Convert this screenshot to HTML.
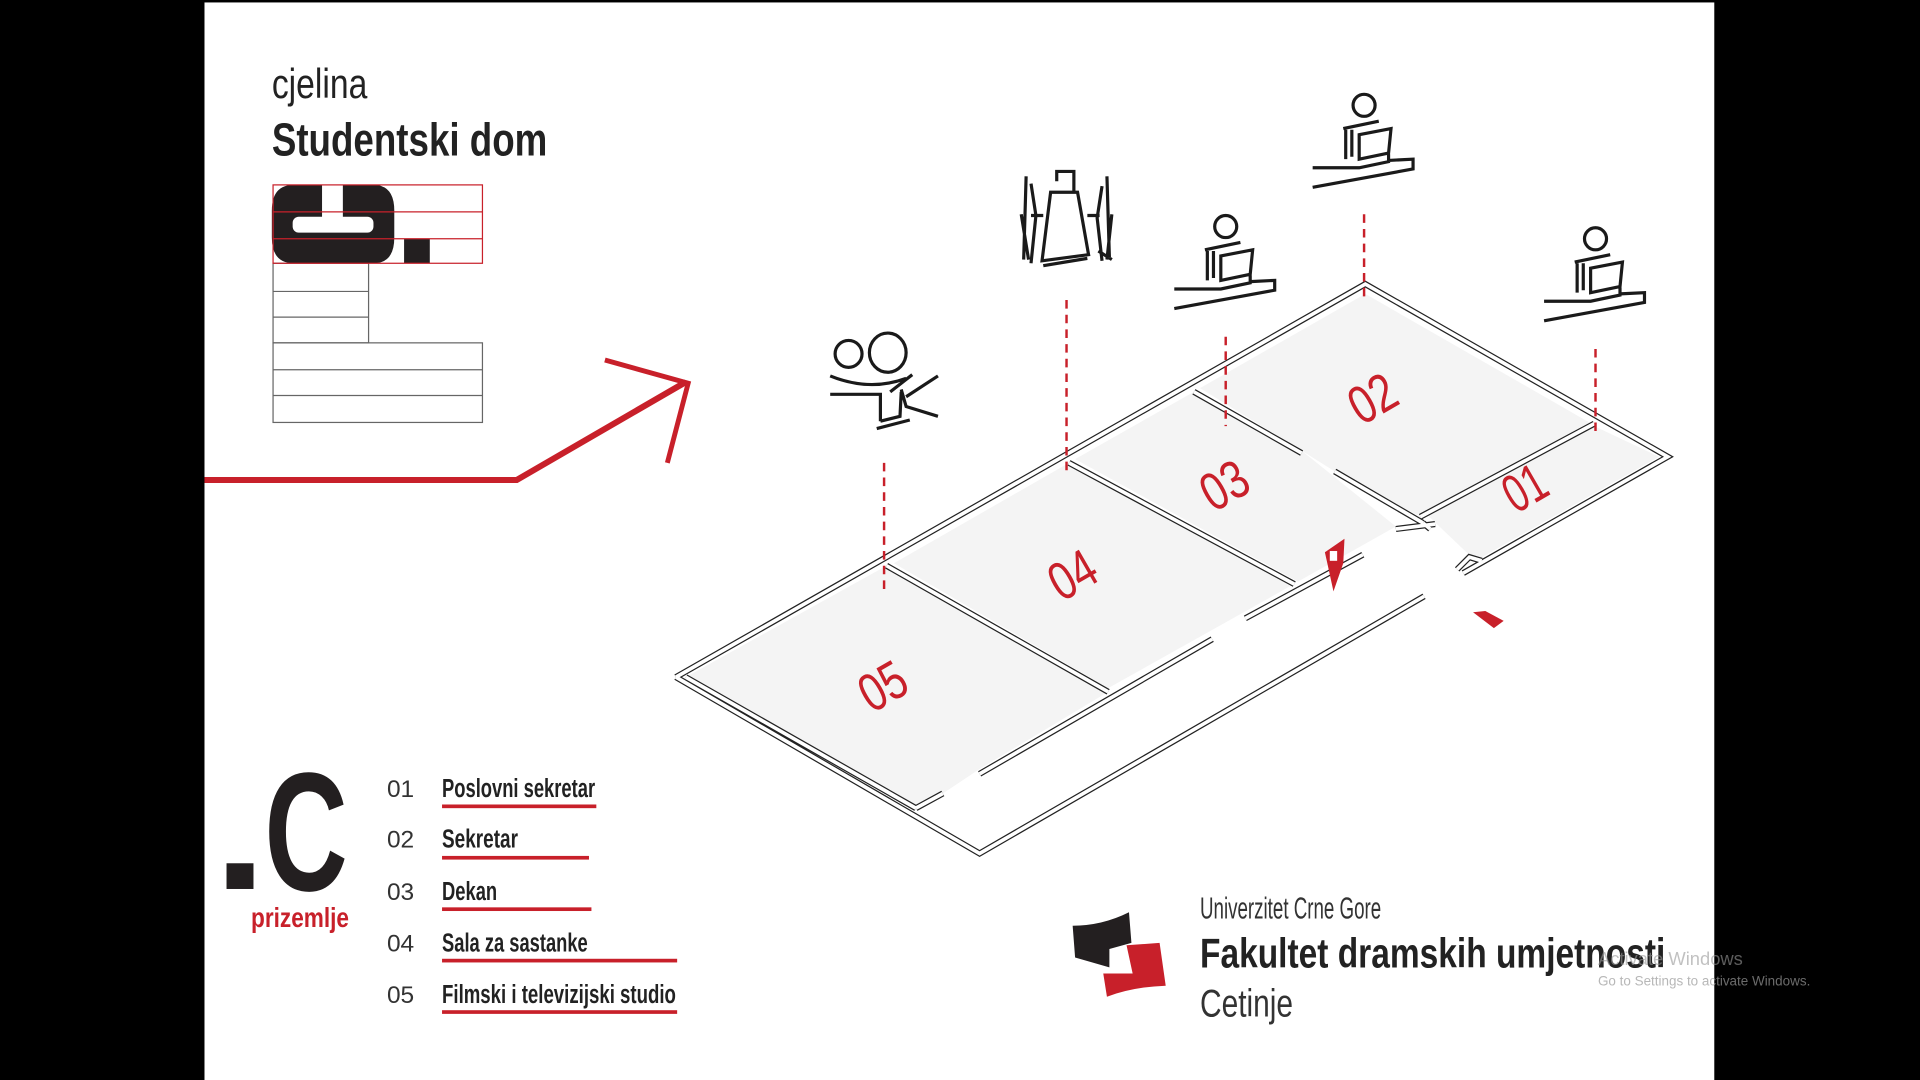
<!DOCTYPE html>
<html><head><meta charset="utf-8"><style>
html,body{margin:0;padding:0;background:#000;width:1920px;height:1080px;overflow:hidden}
svg{display:block}
.w{fill:none;stroke:#222;stroke-width:5;stroke-linecap:butt;stroke-linejoin:miter}
.wi{fill:none;stroke:#fff;stroke-width:3;stroke-linecap:butt;stroke-linejoin:miter}
.ic{fill:none;stroke:#1a1a1a;stroke-width:2.6;stroke-linecap:butt;stroke-linejoin:miter}
.dash{stroke:#c8202a;stroke-width:2;stroke-dasharray:7 5}
.n{font-family:"Liberation Sans Narrow","Liberation Sans",sans-serif}
</style></head><body>
<svg width="1920" height="1080" viewBox="0 0 1568 882" xmlns="http://www.w3.org/2000/svg">
<rect x="0" y="0" width="1568" height="882" fill="#000"/>
<rect x="167" y="2" width="1233" height="880" fill="#fff"/>

<text x="222" y="80" class="n" font-size="34" fill="#222" textLength="78" lengthAdjust="spacingAndGlyphs">cjelina</text>
<text x="222" y="127" class="n" font-size="38" font-weight="bold" fill="#222" textLength="225" lengthAdjust="spacingAndGlyphs">Studentski dom</text>

<g fill="none" stroke="#666" stroke-width="1">
<rect x="223" y="215" width="78" height="65"/>
<line x1="223" y1="238" x2="301" y2="238"/><line x1="223" y1="259" x2="301" y2="259"/>
<rect x="223" y="280" width="171" height="65"/>
<line x1="223" y1="302" x2="394" y2="302"/><line x1="223" y1="323" x2="394" y2="323"/>
</g>
<path d="M240,151 H305 Q322,151 322,172 V194 Q322,215 305,215 H240 Q222,215 222,194 V172 Q222,151 240,151 Z" fill="#231f20"/>
<rect x="263" y="151" width="17" height="27" fill="#fff"/>
<rect x="239" y="177" width="66" height="13" rx="5" fill="#fff"/>
<rect x="330" y="195" width="21" height="20" fill="#231f20"/>
<g fill="none" stroke="#c8202a" stroke-width="1">
<rect x="223" y="151" width="171" height="64"/>
<line x1="223" y1="173" x2="394" y2="173"/><line x1="223" y1="195" x2="394" y2="195"/>
</g>

<polyline points="167,392 422,392 560,312" fill="none" stroke="#c8202a" stroke-width="5"/>
<polyline points="494,294 562,313 545,378" fill="none" stroke="#c8202a" stroke-width="4"/>

<g fill="#f4f4f4">
<polygon points="560,553 724,462 905,565 800,628 770,648 748,660"/>
<polygon points="730,460 873,378 1055,478 905,562"/>
<polygon points="878,375 975,320 1063,368 1140,430 1060,475"/>
<polygon points="980,317 1115,240 1298,345 1160,422 1090,385 1063,368"/>
<polygon points="1165,420 1302,348 1355,373 1205,458"/>
</g>

<g>
<path class="w" d="M552,553 L1115,232 L1362,373 L1195,468
M552,553 L800,697 L1163,487
M560,553 L748,660 M748,660 L770,648
M800,632 L990,522
M1017,505 L1113,453
M724,462 L905,565
M873,378 L1057,477
M975,320 L1063,370
M1090,385 L1162,427
M1160,422 L1302,346
M1140,432 L1172,428
M1190,465 L1200,455 L1210,458
M1162,427 L1168,432"/>
<path class="wi" d="M552,553 L1115,232 L1362,373 L1195,468
M552,553 L800,697 L1163,487
M560,553 L748,660 M748,660 L770,648
M800,632 L990,522
M1017,505 L1113,453
M724,462 L905,565
M873,378 L1057,477
M975,320 L1063,370
M1090,385 L1162,427
M1160,422 L1302,346
M1140,432 L1172,428
M1190,465 L1200,455 L1210,458
M1162,427 L1168,432"/>
</g>

<path d="M1082,451 L1098,440 L1097,460 L1089,483 Z" fill="#c8202a"/>
<rect x="1086" y="450" width="6" height="8" fill="#fff"/>
<path d="M1203,500 L1213,499 L1228,507 L1220,513 Z" fill="#c8202a"/>

<g class="n" font-size="44" fill="#c8202a">
<text transform="translate(712,583) rotate(-30)" textLength="38" lengthAdjust="spacingAndGlyphs">05</text>
<text transform="translate(867,492) rotate(-30)" textLength="38" lengthAdjust="spacingAndGlyphs">04</text>
<text transform="translate(991,419) rotate(-30)" textLength="38" lengthAdjust="spacingAndGlyphs">03</text>
<text transform="translate(1112,348) rotate(-30)" textLength="38" lengthAdjust="spacingAndGlyphs">02</text>
<text transform="translate(1238,420) rotate(-30)" textLength="34" lengthAdjust="spacingAndGlyphs">01</text>
</g>

<line class="dash" x1="722" y1="378" x2="722" y2="485"/>
<line class="dash" x1="871" y1="245" x2="871" y2="388"/>
<line class="dash" x1="1001" y1="275" x2="1001" y2="348"/>
<line class="dash" x1="1114" y1="175" x2="1114" y2="245"/>
<line class="dash" x1="1303" y1="285" x2="1303" y2="357"/>

<defs>
<g id="person">
<circle cx="0" cy="0" r="9" class="ic"/>
<path class="ic" d="M-17,19 L12,13 M-15,20 L-15,44 M-10,20 L-10,42 M-4,24 L22,19 L20,39 L-4,44 Z M-42,51 L-4,51 L20,46 L20,40 M20,45 L40,44 L40,52 L-42,67"/>
</g>
</defs>
<use href="#person" x="1114" y="86"/>
<use href="#person" x="1001" y="185"/>
<use href="#person" x="1303" y="195"/>

<g class="ic">
<path d="M863,148 L863,140 L877,140 L877,157 M858,157 L880,157 L889,208 L851,213 Z"/>
<path d="M838,144 L836,212 M842,150 L846,176 L842,215 M834,175 L840,212 M904,144 L906,210 M900,152 L896,178 L900,213 M908,175 L904,212 M852,217 L888,211 M897,205 L908,212 M842,176 L852,176 M898,176 L888,176"/>
</g>

<g class="ic">
<circle cx="693" cy="289" r="11"/>
<ellipse cx="725" cy="288" rx="15" ry="16"/>
<path d="M678,307 Q710,320 740,309 M678,322 L719,322 L719,344 M727,320 L745,306 M736,318 L740,332 L766,340 M740,324 L766,307 M736,320 L735,340 L719,344 M716,350 L743,343"/>
</g>

<rect x="185" y="705" width="22" height="21" fill="#231f20"/>
<text x="216" y="727" style="font-family:'Liberation Sans Narrow','Liberation Sans',sans-serif;font-weight:bold" font-size="138" fill="#231f20" textLength="68" lengthAdjust="spacingAndGlyphs">C</text>
<text x="205" y="757" class="n" font-size="23" font-weight="bold" fill="#c8202a" textLength="80" lengthAdjust="spacingAndGlyphs">prizemlje</text>

<g class="n" font-size="20" fill="#333">
<text x="316" y="651">01</text><text x="316" y="692">02</text><text x="316" y="735">03</text><text x="316" y="777">04</text><text x="316" y="819">05</text>
</g>
<g class="n" font-size="21" font-weight="bold" fill="#222">
<text x="361" y="651" textLength="125" lengthAdjust="spacingAndGlyphs">Poslovni sekretar</text>
<text x="361" y="692" textLength="62" lengthAdjust="spacingAndGlyphs">Sekretar</text>
<text x="361" y="735" textLength="45" lengthAdjust="spacingAndGlyphs">Dekan</text>
<text x="361" y="777" textLength="119" lengthAdjust="spacingAndGlyphs">Sala za sastanke</text>
<text x="361" y="819" textLength="191" lengthAdjust="spacingAndGlyphs">Filmski i televizijski studio</text>
</g>
<g fill="#c8202a">
<rect x="361" y="657" width="126" height="3"/>
<rect x="361" y="699" width="120" height="3"/>
<rect x="361" y="741" width="122" height="3"/>
<rect x="361" y="783" width="192" height="3"/>
<rect x="361" y="825" width="192" height="3"/>
</g>

<path d="M876,756 Q900,756 922,745 L924,770 L906,775 L906,790 L878,782 Z" fill="#231f20"/>
<path d="M920,772 L947,770 L952,805 Q925,806 904,814 L901,795 L925,795 Z" fill="#c8202a"/>

<text x="980" y="750" class="n" font-size="25" fill="#333" textLength="148" lengthAdjust="spacingAndGlyphs">Univerzitet Crne Gore</text>
<text x="980" y="790" class="n" font-size="34" font-weight="bold" fill="#222" textLength="380" lengthAdjust="spacingAndGlyphs">Fakultet dramskih umjetnosti</text>
<text x="980" y="830" class="n" font-size="32" fill="#333" textLength="76" lengthAdjust="spacingAndGlyphs">Cetinje</text>

<text x="1305" y="788" font-family="Liberation Sans,sans-serif" font-size="15" fill="#999" opacity="0.6">Activate Windows</text>
<text x="1305" y="805" font-family="Liberation Sans,sans-serif" font-size="11" fill="#999" opacity="0.7">Go to Settings to activate Windows.</text>
</svg>
</body></html>
